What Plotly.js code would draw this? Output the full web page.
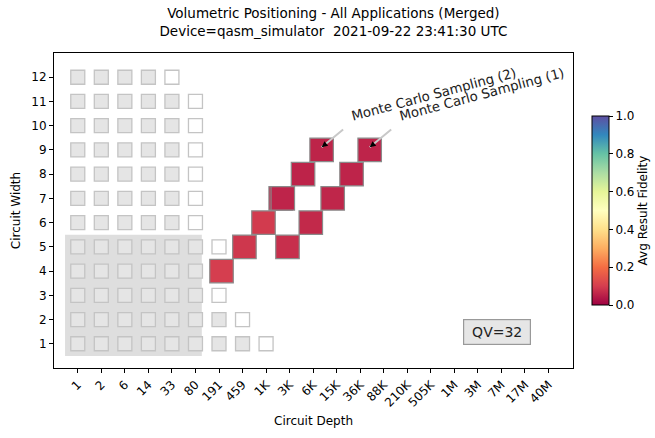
<!DOCTYPE html>
<html>
<head>
<meta charset="utf-8">
<script src="https://cdn.plot.ly/plotly-3.0.1.min.js"></script>
<style>html,body{margin:0;padding:0;background:#fff;}#chart{width:655px;height:438px;}</style>
</head>
<body>
<div id="chart"></div>
<script>
// ---- Data ----
const tickDepths = [1, 2.4, 5.76, 13.824, 33.178, 79.626, 191.1, 458.64, 1100.7, 2641.8, 6340.3,
  15217, 36520, 87648, 210355, 504853, 1211647, 2907953, 6979087, 16749809, 40199541];
const tickLabels = ['1','2','6','14','33','80','191','459','1K','3K','6K','15K','36K','88K',
  '210K','505K','1M','3M','7M','17M','40M'];
const widthTicks = [1,2,3,4,5,6,7,8,9,10,11,12];
// number of filled (grey) background cells per circuit width 1..12
const greyCellCount = [8,7,6,6,6,5,5,5,5,5,5,4];

// Application results: circuit width, circuit depth, avg result fidelity
const appWidths    = [4, 5, 6, 7, 7, 8, 9, 5, 6, 7, 8, 9];
const appDepths    = [210, 492, 1000, 1895, 2049, 4354, 8690, 2441, 5807, 13110, 26460, 51920];
const appFidelity  = [0.100, 0.088, 0.095, 0.060, 0.058, 0.056, 0.057, 0.075, 0.065, 0.060, 0.058, 0.058];

const qvValue = 32;
const qvWidth = 5;

const labelNames   = ['Monte Carlo Sampling (2)', 'Monte Carlo Sampling (1)'];
const labelWidths  = [9, 9];
const labelDepths  = [8690, 51920];

// ---- Build background cells ----
const greyX = [], greyY = [], whiteX = [], whiteY = [];
widthTicks.forEach((w, i) => {
  for (let k = 0; k < greyCellCount[i]; k++) { greyX.push(tickDepths[k]); greyY.push(w); }
  whiteX.push(tickDepths[greyCellCount[i]]); whiteY.push(w);
});

const L = Math.log10(2.4);
const FONT = 'DejaVu Sans, Liberation Sans, sans-serif';

const spectral = [
  [0.0,'#9e0142'],[0.1,'#d53e4f'],[0.2,'#f46d43'],[0.3,'#fdae61'],[0.4,'#fee08b'],
  [0.5,'#ffffbf'],[0.6,'#e6f598'],[0.7,'#abdda4'],[0.8,'#66c2a5'],[0.9,'#3288bd'],[1.0,'#5e4fa2']
];

const traces = [
  {type:'scatter', mode:'markers', x:greyX, y:greyY, hoverinfo:'skip', showlegend:false,
   marker:{symbol:'square', size:14, color:'#e5e5e5', line:{color:'#c4c4c4', width:1.3}}},
  {type:'scatter', mode:'markers', x:whiteX, y:whiteY, hoverinfo:'skip', showlegend:false,
   marker:{symbol:'square', size:14, color:'#ffffff', line:{color:'#c4c4c4', width:1.3}}},
  {type:'scatter', mode:'markers', x:appDepths, y:appWidths, showlegend:false,
   marker:{symbol:'square', size:23.5, color:appFidelity, cmin:0, cmax:1, colorscale:spectral,
     line:{color:'#8a8a8a', width:1.2},
     showscale:true,
     colorbar:{x:1.037, xanchor:'left', xpad:0, ypad:0, y:0.5, yanchor:'middle', len:0.6, lenmode:'fraction',
       thickness:17, outlinewidth:1, outlinecolor:'#000', ticks:'outside', ticklen:4,
       tickcolor:'#000', tickvals:[0,0.2,0.4,0.6,0.8,1.0], ticktext:['0.0','0.2','0.4','0.6','0.8','1.0'],
       tickfont:{family:FONT, size:12, color:'#000'},
       title:{text:'Avg Result Fidelity', side:'right', font:{family:FONT, size:12, color:'#000'}}}}}
];

const annotations = [];
labelNames.forEach((name, i) => {
  // grey shaft
  annotations.push({x:Math.log10(labelDepths[i]), y:labelWidths[i] + 0.11, xref:'x', yref:'y',
    text:'', showarrow:true, arrowhead:0, arrowwidth:2, arrowcolor:'#c8c8c8',
    ax:23, ay:-19, standoff:0});
  // black head
  annotations.push({x:Math.log10(labelDepths[i]), y:labelWidths[i] + 0.11, xref:'x', yref:'y',
    text:'', showarrow:true, arrowhead:2, arrowsize:1, arrowwidth:1.2, arrowcolor:'#000',
    ax:5, ay:-4, standoff:0});
  annotations.push({x:Math.log10(labelDepths[i]), y:labelWidths[i], xref:'x', yref:'y',
    text:name, showarrow:false, textangle:-15, xshift:112, yshift:55,
    font:{family:FONT, size:13.3, color:'#222'}});
});
annotations.push({x:0.853, y:0.115, xref:'paper', yref:'paper', xanchor:'center', yanchor:'middle',
  text:'QV=' + qvValue,
  showarrow:false, bgcolor:'#e6e6e6', bordercolor:'#999', borderwidth:1.2, borderpad:0,
  width:66, height:24, font:{family:FONT, size:14, color:'#222'}});

const layout = {
  width:655, height:438,
  margin:{l:54, r:82, t:53, b:70, autoexpand:false},
  paper_bgcolor:'#fff', plot_bgcolor:'#fff',
  title:{text:'Volumetric Positioning - All Applications (Merged)<br>Device=qasm_simulator\u00a0\u00a02021-09-22 23:41:30 UTC',
    x:0.509, xanchor:'center', y:0.958, yanchor:'top', font:{family:FONT, size:13.5, color:'#000'}},
  xaxis:{type:'log', range:[-1.01*L, 21.04*L], tickvals:tickDepths, ticktext:tickLabels,
    tickangle:-45, ticks:'outside', ticklen:4, tickcolor:'#000', showgrid:false, zeroline:false,
    showline:true, mirror:true, linecolor:'#000', linewidth:1,
    tickfont:{family:FONT, size:12, color:'#000'},
    title:{text:'Circuit Depth', font:{family:FONT, size:12, color:'#000'}, standoff:8}},
  yaxis:{range:[0, 13], tickvals:widthTicks, ticks:'outside', ticklen:4, tickcolor:'#000',
    showgrid:false, zeroline:false, showline:true, mirror:true, linecolor:'#000', linewidth:1,
    tickfont:{family:FONT, size:12, color:'#000'},
    title:{text:'Circuit Width', font:{family:FONT, size:12, color:'#000'}, standoff:8}},
  shapes:[{type:'rect', xref:'x', yref:'y', layer:'below',
    x0:Math.pow(2.4, -0.54), x1:Math.pow(2.4, 5.27), y0:0.5, y1:qvWidth + 0.5,
    fillcolor:'#dedede', line:{width:0}}],
  annotations:annotations
};

Plotly.newPlot('chart', traces, layout, {displayModeBar:false, staticPlot:true});
</script>
</body>
</html>
